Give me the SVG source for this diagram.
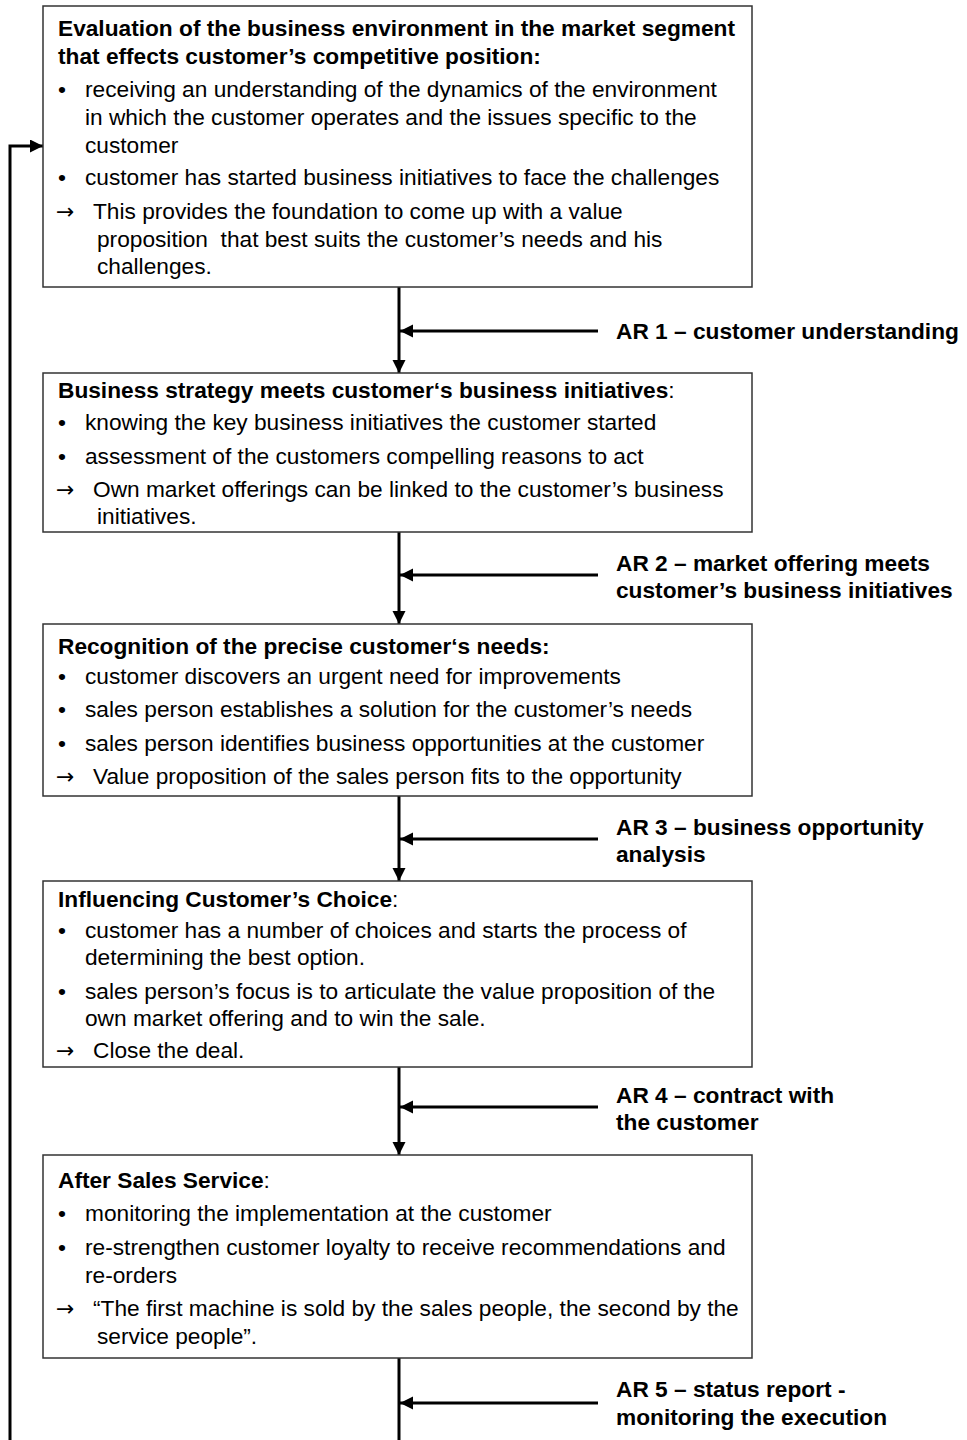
<svg xmlns="http://www.w3.org/2000/svg" width="967" height="1440" viewBox="0 0 967 1440">
<style>
text{font-family:"Liberation Sans",Arial,"DejaVu Sans",sans-serif;font-size:22.7px;fill:#000}
.b{font-weight:bold}
.ar{font-family:"DejaVu Sans",sans-serif;font-size:22px}
.box{fill:#fff;stroke:#333;stroke-width:1.5}
.con{fill:none;stroke:#000;stroke-width:3}
</style>
<defs>
<marker id="ah" markerUnits="userSpaceOnUse" markerWidth="16" markerHeight="16" refX="13" refY="6.5" orient="auto">
<path d="M0,0 L13,6.5 L0,13 Z" fill="#000"/>
</marker>
</defs>
<rect width="967" height="1440" fill="#fff"/>

<g id="connectors">
<path class="con" d="M10,1440 V146 H43" marker-end="url(#ah)"/>
<path class="con" d="M399,287 V373" marker-end="url(#ah)"/>
<path class="con" d="M598,331 H400" marker-end="url(#ah)"/>
<path class="con" d="M399,532 V624" marker-end="url(#ah)"/>
<path class="con" d="M598,575 H400" marker-end="url(#ah)"/>
<path class="con" d="M399,796 V881" marker-end="url(#ah)"/>
<path class="con" d="M598,839 H400" marker-end="url(#ah)"/>
<path class="con" d="M399,1067 V1155" marker-end="url(#ah)"/>
<path class="con" d="M598,1107 H400" marker-end="url(#ah)"/>
<path class="con" d="M399,1358 V1440"/>
<path class="con" d="M598,1403 H400" marker-end="url(#ah)"/>
</g>

<g id="node1">
<rect class="box" x="43" y="6" width="709" height="281"/>
<text class="b" x="58" y="36">Evaluation of the business environment in the market segment</text>
<text class="b" x="58" y="64">that effects customer’s competitive position:</text>
<text x="58" y="97">•</text>
<text x="85" y="97">receiving an understanding of the dynamics of the environment</text>
<text x="85" y="125">in which the customer operates and the issues specific to the</text>
<text x="85" y="153">customer</text>
<text x="58" y="185">•</text>
<text x="85" y="185">customer has started business initiatives to face the challenges</text>
<text class="ar" x="56" y="219">→</text>
<text x="93" y="219">This provides the foundation to come up with a value</text>
<text x="97" y="247" xml:space="preserve">proposition  that best suits the customer’s needs and his</text>
<text x="97" y="274">challenges.</text>
</g>

<g id="node2">
<rect class="box" x="43" y="373" width="709" height="159"/>
<text x="58" y="398"><tspan class="b">Business strategy meets customer‘s business initiatives</tspan>:</text>
<text x="58" y="430">•</text>
<text x="85" y="430">knowing the key business initiatives the customer started</text>
<text x="58" y="464">•</text>
<text x="85" y="464">assessment of the customers compelling reasons to act</text>
<text class="ar" x="56" y="497">→</text>
<text x="93" y="497">Own market offerings can be linked to the customer’s business</text>
<text x="97" y="524">initiatives.</text>
</g>

<g id="node3">
<rect class="box" x="43" y="624" width="709" height="172"/>
<text class="b" x="58" y="654">Recognition of the precise customer‘s needs:</text>
<text x="58" y="684">•</text>
<text x="85" y="684">customer discovers an urgent need for improvements</text>
<text x="58" y="717">•</text>
<text x="85" y="717">sales person establishes a solution for the customer’s needs</text>
<text x="58" y="751">•</text>
<text x="85" y="751">sales person identifies business opportunities at the customer</text>
<text class="ar" x="56" y="784">→</text>
<text x="93" y="784">Value proposition of the sales person fits to the opportunity</text>
</g>

<g id="node4">
<rect class="box" x="43" y="881" width="709" height="186"/>
<text x="58" y="907"><tspan class="b">Influencing Customer’s Choice</tspan>:</text>
<text x="58" y="938">•</text>
<text x="85" y="938">customer has a number of choices and starts the process of</text>
<text x="85" y="965">determining the best option.</text>
<text x="58" y="999">•</text>
<text x="85" y="999">sales person’s focus is to articulate the value proposition of the</text>
<text x="85" y="1026">own market offering and to win the sale.</text>
<text class="ar" x="56" y="1058">→</text>
<text x="93" y="1058">Close the deal.</text>
</g>

<g id="node5">
<rect class="box" x="43" y="1155" width="709" height="203"/>
<text x="58" y="1188"><tspan class="b">After Sales Service</tspan>:</text>
<text x="58" y="1221">•</text>
<text x="85" y="1221">monitoring the implementation at the customer</text>
<text x="58" y="1255">•</text>
<text x="85" y="1255">re-strengthen customer loyalty to receive recommendations and</text>
<text x="85" y="1283">re-orders</text>
<text class="ar" x="56" y="1316">→</text>
<text x="93" y="1316">“The first machine is sold by the sales people, the second by the</text>
<text x="97" y="1344">service people”.</text>
</g>

<g id="labels">
<text class="b" x="616" y="339">AR 1 – customer understanding</text>
<text class="b" x="616" y="571">AR 2 – market offering meets</text>
<text class="b" x="616" y="598">customer’s business initiatives</text>
<text class="b" x="616" y="835">AR 3 – business opportunity</text>
<text class="b" x="616" y="862">analysis</text>
<text class="b" x="616" y="1103">AR 4 – contract with</text>
<text class="b" x="616" y="1130">the customer</text>
<text class="b" x="616" y="1397">AR 5 – status report -</text>
<text class="b" x="616" y="1425">monitoring the execution</text>
</g>
</svg>
